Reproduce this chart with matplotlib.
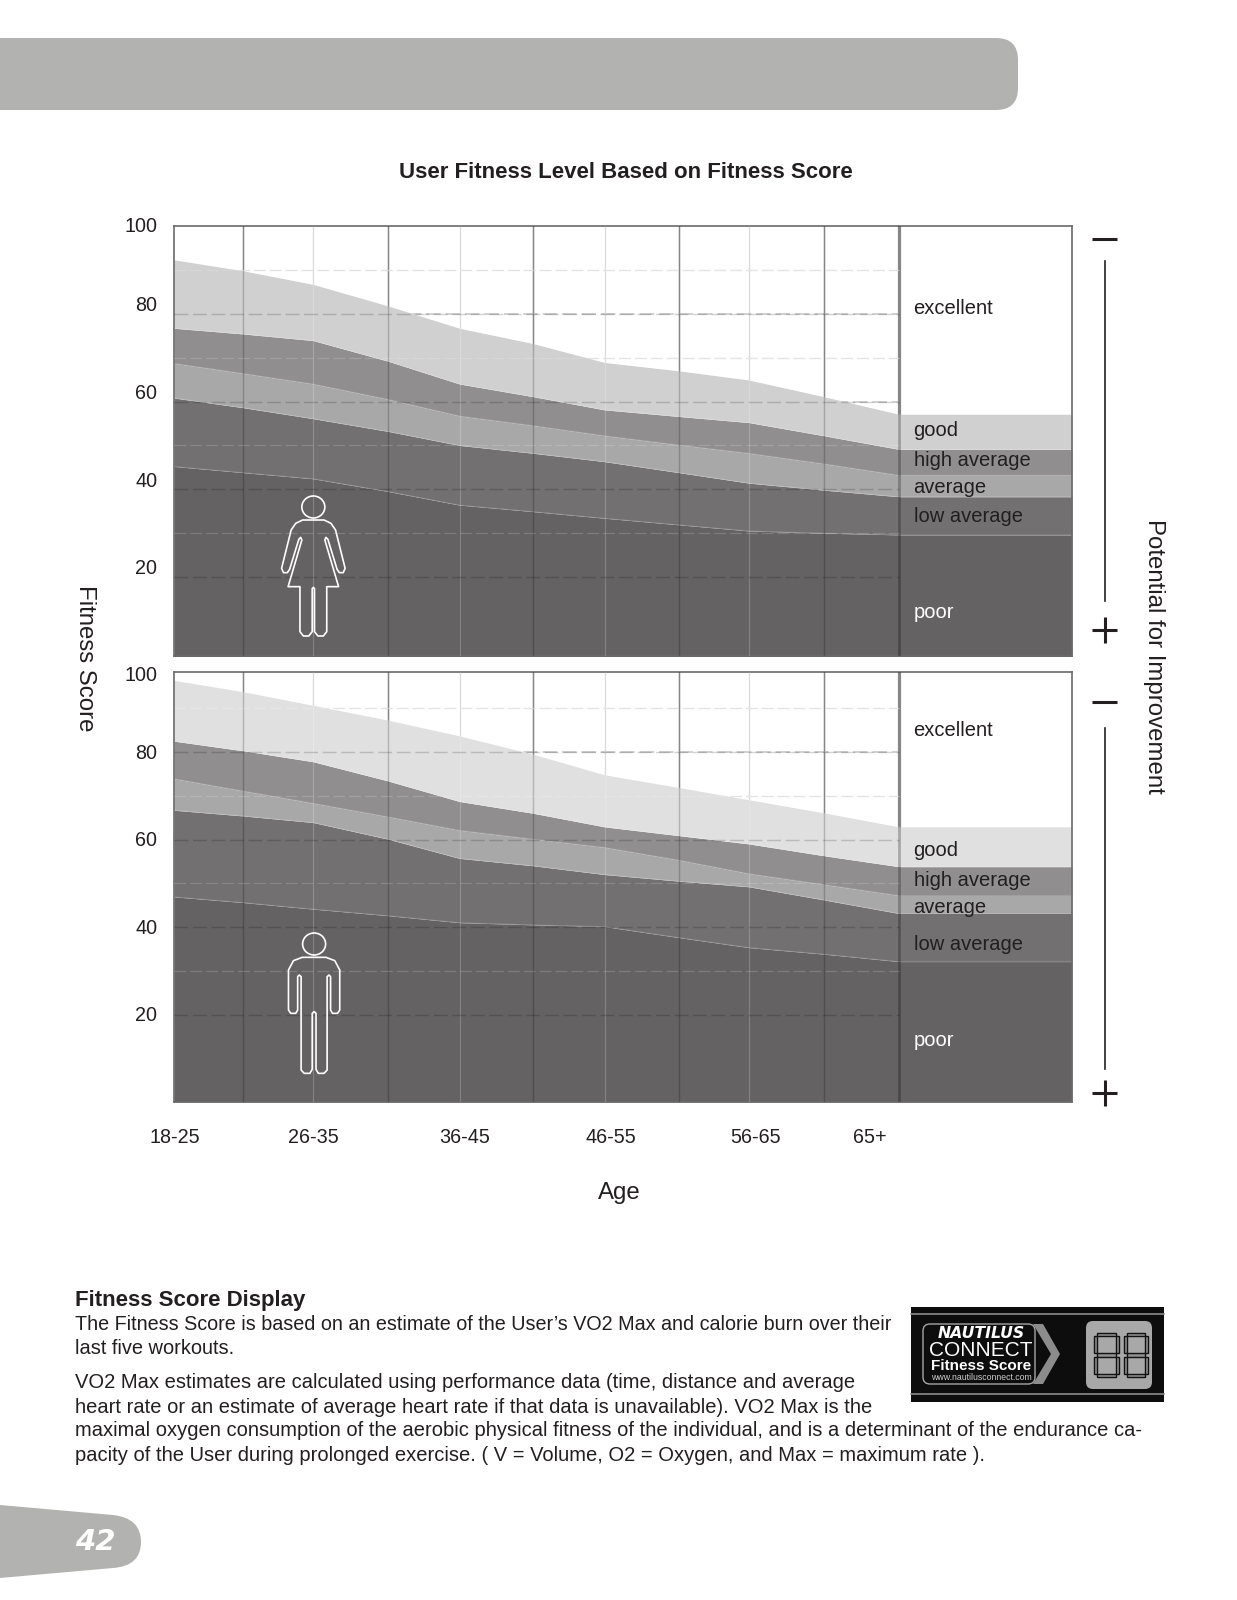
#!/usr/bin/env python
"""Fitness score chart page: two stacked band charts plus the manual page text."""
import matplotlib
matplotlib.use("Agg")
import matplotlib.pyplot as plt
from matplotlib.patches import Ellipse, FancyBboxPatch, Polygon, PathPatch, Rectangle
from matplotlib.path import Path

plt.rcParams["font.family"] = ["Liberation Sans", "DejaVu Sans"]

W, H = 1237, 1600
INK = "#231f20"
TAB_GREY = "#b2b2b0"

# x unit = one page pixel from the left edge of the chart
grid_x = [0, 69, 139, 214, 285.5, 359.4, 430.6, 504.7, 575, 650, 725]
x_end = 898
age_tick_x = [1, 139, 291, 437, 582, 696]
age_labels = ["18-25", "26-35", "36-45", "46-55", "56-65", "65+"]

band_names = ["poor", "low average", "average", "high average", "good"]
band_colors = ["#646263", "#727071", "#a9a8a9", "#908e8f"]

# upper edge of each band at the grid lines (women, top chart)
women_poor = [45.2, 43.8, 42.4, 39.5, 36.4, 34.9, 33.4, 31.9, 30.5, 30.0, 29.6]
women_low = [60.8, 58.6, 56.1, 53.2, 50.0, 48.2, 46.3, 43.8, 41.4, 39.8, 38.3]
women_avg = [68.7, 66.4, 64.0, 60.5, 56.7, 54.5, 52.2, 50.1, 48.2, 45.8, 43.2]
women_high = [76.7, 75.4, 73.9, 69.2, 64.0, 61.1, 58.1, 56.6, 55.2, 52.2, 49.1]
women_good = [92.3, 89.8, 86.7, 81.8, 76.7, 73.2, 68.9, 67.0, 64.9, 61.1, 57.1]

# men, bottom chart
men_poor = [46.9, 45.6, 44.1, 42.6, 41.0, 40.5, 40.1, 37.6, 35.3, 33.8, 32.1]
men_low = [66.7, 65.4, 63.9, 60.1, 55.7, 54.0, 52.0, 50.5, 49.2, 46.2, 43.1]
men_avg = [73.9, 71.1, 68.3, 65.2, 62.1, 60.1, 58.2, 55.3, 52.2, 49.7, 47.2]
men_high = [82.5, 80.3, 77.8, 73.4, 68.7, 66.0, 62.9, 60.9, 59.0, 56.3, 53.8]
men_good = [96.4, 93.8, 90.7, 87.3, 83.7, 79.5, 74.8, 71.9, 69.1, 66.1, 62.9]

score_ticks = [100, 80, 60, 40, 20]
minor_scores = [90, 70, 50, 30]

# half outlines of the two icons, right side, mirrored when drawn
WOMAN = [(662, 960), (690, 960), (708, 970), (720, 990), (745, 1105), (740, 1118), (730, 1118),
         (724, 1108), (700, 1018), (695, 1012), (692, 1020), (728, 1160), (697, 1160),
         (697, 1295), (688, 1308), (674, 1308), (665, 1295), (665, 1166), (662, 1162)]
MAN = [(664, 922), (695, 922), (718, 932), (731, 960), (731, 1080), (725, 1090), (712, 1090),
       (707, 1080), (707, 980), (703, 975), (698, 980), (698, 1260), (690, 1270), (675, 1270),
       (669, 1258), (669, 1090), (664, 1085)]


def panel(fig, top, bottom, ylim, bands, good_color, show_x):
    ax = fig.add_axes([174 / W, 1 - bottom / H, (1072 - 174) / W, (bottom - top) / H])
    xs = grid_x + [x_end]
    stacked = [b + [b[-1]] for b in bands]

    # grid under the bands
    for i, gx in enumerate(grid_x[1:], start=1):
        if i == 10:
            ax.axvline(gx, color="#b0b0b0", lw=2.4, zorder=1)
        elif i % 2:
            ax.axvline(gx, color="#a8a8a8", lw=1.05, zorder=1)
        else:
            ax.axvline(gx, color="#d2d2d2", lw=0.9, zorder=1)
    dash = (0, (9.5, 3.2))
    for s in score_ticks[1:]:
        ax.plot([0, grid_x[10]], [s, s], color="#c4c4c4", lw=1.1, ls=dash, zorder=1)
    for s in minor_scores:
        ax.plot([0, grid_x[10]], [s, s], color="#dedede", lw=0.9, ls=dash, zorder=1)

    # bands, bottom one first
    colors = band_colors + [good_color]
    lower = [0] * len(xs)
    for upper, col in zip(stacked, colors):
        ax.fill_between(xs, lower, upper, color=col, lw=0, zorder=2)
        ax.plot(xs, upper, color="white", lw=0.5, alpha=0.22, zorder=2.5)
        lower = upper

    # grid showing through the bands
    for i, gx in enumerate(grid_x[1:], start=1):
        if i == 10:
            ax.axvline(gx, color="black", lw=2.0, alpha=0.25, zorder=3)
        elif i % 2:
            ax.axvline(gx, color="black", lw=1.05, alpha=0.2, zorder=3)
        else:
            ax.axvline(gx, color="white", lw=0.9, alpha=0.2, zorder=3)
    for s in score_ticks[1:]:
        ax.plot([0, grid_x[10]], [s, s], color="black", lw=1.05, ls=dash, alpha=0.17, zorder=3)
    for s in minor_scores:
        ax.plot([0, grid_x[10]], [s, s], color="white", lw=0.9, ls=dash, alpha=0.17, zorder=3)

    ax.set_xlim(0, x_end)
    ax.set_ylim(*ylim)
    ax.set_yticks([])
    if show_x:
        ax.set_xticks(age_tick_x, age_labels, fontsize=14.2, color=INK)
        ax.tick_params(axis="x", length=0, pad=18.5)
    else:
        ax.set_xticks([])
    for sp in ax.spines.values():
        sp.set_color("#6a6a6a")
        sp.set_linewidth(1.2)
    return ax


def score_labels(ax, offsets):
    # the printed labels sit a little off their grid lines
    for s, off in zip(score_ticks, offsets):
        ax.annotate(str(s), xy=(0, s), xycoords=ax.get_yaxis_transform(),
                    xytext=(-16.5 * 0.72, off * 0.72), textcoords="offset points",
                    ha="right", va="center", fontsize=14.2, color=INK, annotation_clip=False)


def icon(page, outline, head, x0, y0):
    sx, sy = 1 / 2.613, 1 / 3
    cx = outline[0][0]
    right = [(x0 + x * sx, y0 + y * sy) for x, y in outline]
    left = [(x0 + (2 * cx - x) * sx, y0 + y * sy) for x, y in outline[::-1]]
    page.add_patch(Polygon(right + left, closed=True, fill=False, ec="white", lw=1.2,
                           joinstyle="round", zorder=6))
    page.add_patch(Ellipse((x0 + head[0] * sx, y0 + head[1] * sy), 23, 22, fill=False,
                           ec="white", lw=1.2, zorder=6))


def scale_marks(page, minus_y, line_top, line_bottom, plus_y):
    page.plot([1092, 1117], [minus_y, minus_y], color=INK, lw=2.2, solid_capstyle="butt")
    page.plot([1105, 1105], [line_top, line_bottom], color=INK, lw=1.2)
    page.plot([1092, 1117], [plus_y, plus_y], color=INK, lw=2.2, solid_capstyle="butt")
    page.plot([1105, 1105], [plus_y - 13, plus_y + 13], color=INK, lw=2.2, solid_capstyle="butt")


def band_labels(page, ys):
    names = ["excellent", "good", "high average", "average", "low average", "poor"]
    for name, y in zip(names, ys):
        page.text(913.5, y, name, fontsize=14.5, ha="left", va="center",
                  color="white" if name == "poor" else INK, zorder=6)


def digit(page, x0, x1, y0, y1):
    # seven outlined segments
    ym = (y0 + y1) / 2
    t = 3.4
    segs = [(x0 + t, y0, x1 - x0 - 2 * t, t), (x0 + t, ym - t / 2, x1 - x0 - 2 * t, t),
            (x0 + t, y1 - t, x1 - x0 - 2 * t, t),
            (x0, y0 + t, t, ym - y0 - 1.5 * t), (x1 - t, y0 + t, t, ym - y0 - 1.5 * t),
            (x0, ym + t / 2, t, y1 - ym - 1.5 * t), (x1 - t, ym + t / 2, t, y1 - ym - 1.5 * t)]
    for x, y, w, h in segs:
        page.add_patch(Rectangle((x, y), w, h, fc="#8f8f8f", ec="#111111", lw=1.0))


def logo(page):
    page.add_patch(Rectangle((911, 1307), 253, 95, fc="#0d0d0d", ec="none"))
    page.plot([911, 1164], [1314, 1314], color="#8c8c8c", lw=1.2)
    page.plot([911, 1164], [1394, 1394], color="#8c8c8c", lw=1.2)
    page.add_patch(FancyBboxPatch((927, 1328), 104, 52, boxstyle="round,pad=4,rounding_size=7",
                                  fc="#0d0d0d", ec="#a5a5a5", lw=1.0))
    page.add_patch(Polygon([(1033, 1324), (1043, 1324), (1060, 1354), (1043, 1384), (1033, 1384),
                            (1051, 1354)], closed=True, fc="#8c8c8c", ec="none"))
    page.text(981, 1333, "NAUTILUS", color="white", fontsize=11.3, fontweight="bold",
              fontstyle="italic", family="DejaVu Sans", ha="center", va="center")
    page.text(981, 1350, "CONNECT", color="white", fontsize=15, ha="center", va="center")
    page.text(981, 1366, "Fitness Score", color="white", fontsize=11, fontweight="bold",
              ha="center", va="center")
    page.text(981, 1377, "www.nautilusconnect.com", color="#cccccc", fontsize=6.3,
              ha="center", va="center")
    page.add_patch(FancyBboxPatch((1092, 1327), 54, 56, boxstyle="round,pad=6,rounding_size=7",
                                  fc="#a8a8a8", ec="none"))
    digit(page, 1094, 1119, 1333, 1377)
    digit(page, 1124, 1148, 1333, 1377)


def main():
    fig = plt.figure(figsize=(W / 100, H / 100), dpi=100, facecolor="white")

    women = [women_poor, women_low, women_avg, women_high, women_good]
    men = [men_poor, men_low, men_avg, men_high, men_good]
    ax1 = panel(fig, 226, 656, (2, 100), women, "#d0d0d0", False)
    ax2 = panel(fig, 672, 1102, (0, 98.3), men, "#e0e0e0", True)
    score_labels(ax1, [-1, 8.5, 8.5, 7.5, 8.5])
    score_labels(ax2, [-11, -1, -1, -1, -1])

    page = fig.add_axes([0, 0, 1, 1], zorder=5)
    page.set_xlim(0, W)
    page.set_ylim(H, 0)
    page.axis("off")
    page.patch.set_alpha(0)

    # header bar and page tab
    page.add_patch(FancyBboxPatch((-40, 38), 1058, 72, boxstyle="round,pad=0,rounding_size=22",
                                  fc=TAB_GREY, ec="none"))
    tab = Path([(0, 1505), (113, 1515), (141, 1518), (141, 1542), (141, 1566), (113, 1568),
                (0, 1578), (0, 1505)],
               [Path.MOVETO, Path.LINETO, Path.CURVE3, Path.CURVE3, Path.CURVE3, Path.CURVE3,
                Path.LINETO, Path.CLOSEPOLY])
    page.add_patch(PathPatch(tab, fc=TAB_GREY, ec="none"))
    page.text(95, 1542, "42", color="white", fontsize=21, fontweight="bold", fontstyle="italic",
              family="DejaVu Sans", ha="center", va="center")

    page.text(626, 172, "User Fitness Level Based on Fitness Score", fontsize=16, fontweight="bold",
              ha="center", va="center", color=INK)
    page.text(85, 658, "Fitness Score", fontsize=17.3, rotation=270, ha="center", va="center", color=INK)
    page.text(1154, 656.5, "Potential for Improvement", fontsize=17.3, rotation=270,
              ha="center", va="center", color=INK)
    page.text(619, 1193, "Age", fontsize=17.3, ha="center", va="center", color=INK)

    band_labels(page, [309, 431, 461, 487.5, 517, 612])
    band_labels(page, [731, 851, 880.5, 907.5, 945, 1040])
    scale_marks(page, 238.7, 260.7, 601, 630)
    scale_marks(page, 701.7, 728, 1068.7, 1093)

    icon(page, WOMAN, (662, 921), 60, 200)
    icon(page, MAN, (664, 882), 60, 650)

    # manual text below the charts
    page.text(75, 1306, "Fitness Score Display", fontsize=16, fontweight="bold", color=INK, va="baseline")
    body = [
        (1330, 14.2, "The Fitness Score is based on an estimate of the User’s VO2 Max and calorie burn over their"),
        (1354, 14.4, "last five workouts."),
        (1388, 14.5, "VO2 Max estimates are calculated using performance data (time, distance and average"),
        (1413, 14.5, "heart rate or an estimate of average heart rate if that data is unavailable). VO2 Max is the"),
        (1436, 14.52, "maximal oxygen consumption of the aerobic physical fitness of the individual, and is a determinant of the endurance ca-"),
        (1461, 14.5, "pacity of the User during prolonged exercise. ( V = Volume, O2 = Oxygen, and Max = maximum rate )."),
    ]
    for y, size, line in body:
        page.text(75, y, line, fontsize=size, color=INK, va="baseline")

    logo(page)
    fig.savefig("out.png", dpi=100)


if __name__ == "__main__":
    main()
